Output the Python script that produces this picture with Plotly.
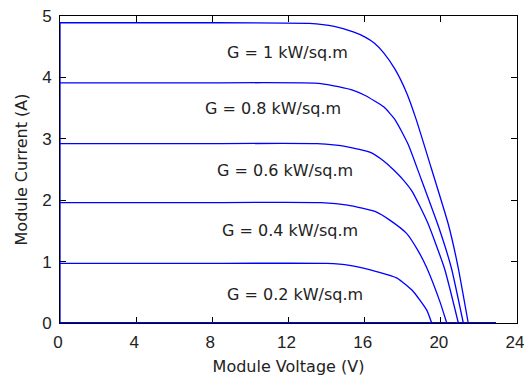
import plotly.graph_objects as go

# Irradiance labels
labels = ["G = 1 kW/sq.m", "G = 0.8 kW/sq.m", "G = 0.6 kW/sq.m",
          "G = 0.4 kW/sq.m", "G = 0.2 kW/sq.m"]

# I-V curves (voltage V, current A)
v_g10 = [0, 7.0, 13.1, 14.4, 15.4, 16.0, 16.5, 17.0, 17.6, 18.2, 18.7, 19.5, 20.4, 20.9, 21.44]
i_g10 = [4.89, 4.89, 4.88, 4.83, 4.74, 4.66, 4.56, 4.40, 4.13, 3.75, 3.32, 2.52, 1.60, 0.92, 0]

v_g08 = [0, 7.0, 13.7, 15.4, 16.0, 17.0, 17.6, 18.3, 18.9, 19.9, 20.55, 21.18]
i_g08 = [3.91, 3.91, 3.90, 3.79, 3.71, 3.52, 3.31, 2.90, 2.40, 1.55, 0.90, 0]

v_g06 = [0, 7.0, 13.5, 15.1, 16.3, 17.0, 17.5, 18.0, 18.5, 19.3, 20.2, 20.92]
i_g06 = [2.92, 2.92, 2.92, 2.87, 2.78, 2.64, 2.50, 2.34, 2.14, 1.64, 0.88, 0]

v_g04 = [0, 7.0, 13.7, 15.1, 16.6, 17.3, 18.2, 18.8, 19.26, 19.96, 20.31]
i_g04 = [1.96, 1.96, 1.96, 1.92, 1.81, 1.68, 1.46, 1.18, 0.90, 0.34, 0]

v_g02 = [0, 7.0, 14.0, 15.2, 16.3, 17.7, 18.56, 19.26, 19.52]
i_g02 = [0.97, 0.97, 0.97, 0.94, 0.865, 0.73, 0.51, 0.21, 0]

# end of the voltage sweep (current stays at zero beyond Voc)
v_end = 22.9

# label positions (data coordinates)
label_v = [11.97, 11.19, 11.80, 12.06, 12.36]
label_i = [4.40, 3.49, 2.49, 1.50, 0.46]

x_ticks = [0, 4, 8, 12, 16, 20, 24]
y_ticks = [0, 1, 2, 3, 4, 5]

BLUE = "#0000FF"
curves = [(v_g10, i_g10), (v_g08, i_g08), (v_g06, i_g06), (v_g04, i_g04), (v_g02, i_g02)]

fig = go.Figure()

# vertical segment at V = 0 and the zero-current segment
i_max = max(c[1][0] for c in curves)
fig.add_trace(go.Scatter(x=[0, 0], y=[0, i_max], mode="lines",
                         line=dict(color=BLUE, width=1.3), showlegend=False))
fig.add_trace(go.Scatter(x=[0, v_end], y=[0, 0], mode="lines",
                         line=dict(color=BLUE, width=2), showlegend=False))

for v, i in curves:
    fig.add_trace(go.Scatter(x=v, y=i, mode="lines",
                             line=dict(color=BLUE, width=1.3, shape="spline", smoothing=0.5),
                             showlegend=False))

for t, xv, yv in zip(labels, label_v, label_i):
    fig.add_annotation(x=xv, y=yv, text=t, showarrow=False, xanchor="center", yanchor="middle",
                       font=dict(family="DejaVu Sans", size=16, color="#222222"))

tick_font = dict(family="Liberation Sans", size=17, color="#222222")
axis_common = dict(showline=True, linecolor="black", linewidth=1, mirror="allticks",
                   ticks="inside", ticklen=6, tickcolor="black", tickwidth=1,
                   showgrid=False, zeroline=False, layer="below traces", tickfont=tick_font,
                   ticklabeloverflow="allow", automargin=False)

fig.update_xaxes(range=[0, 24], tickvals=x_ticks, ticktext=[str(t) for t in x_ticks],
                 title=dict(text="Module Voltage (V)", standoff=9,
                            font=dict(family="DejaVu Sans", size=16, color="#222222")),
                 ticklabelstandoff=4, ticklabelshift=-2, **axis_common)
fig.update_yaxes(range=[0, 5], tickvals=y_ticks, ticktext=[str(t) for t in y_ticks],
                 title=dict(text="Module Current (A)", standoff=10,
                            font=dict(family="DejaVu Sans", size=16, color="#222222")),
                 ticklabelstandoff=4, **axis_common)

fig.update_layout(width=524, height=377, margin=dict(l=60, r=7, t=16, b=54),
                  paper_bgcolor="white", plot_bgcolor="white")

fig.write_html("out.html")
